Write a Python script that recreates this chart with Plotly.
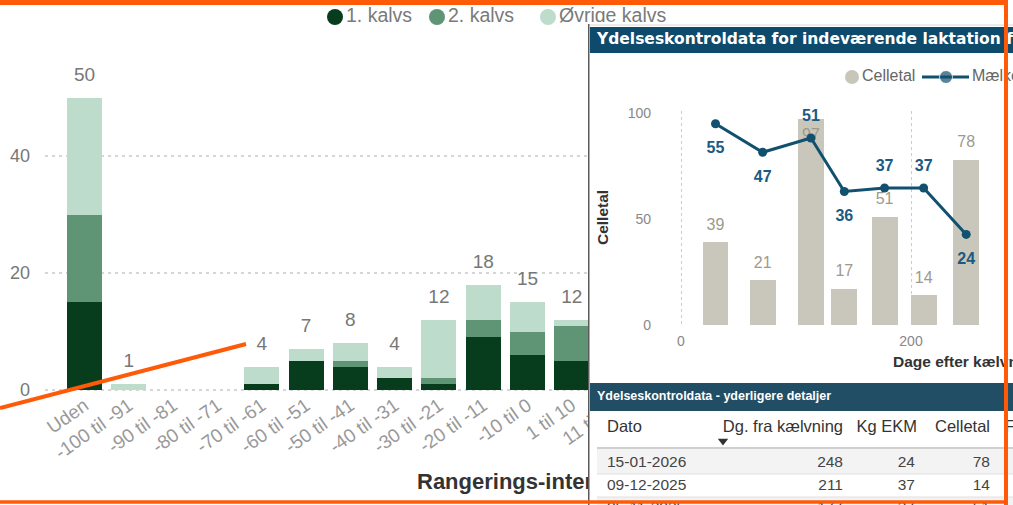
import plotly.graph_objects as go

W, H = 1013, 505
FONT = "Liberation Sans"

# ---------------- background chart: calving-interval distribution ----------------
categories = ["Uden", "-100 til -91", "-90 til -81", "-80 til -71", "-70 til -61",
              "-60 til -51", "-50 til -41", "-40 til -31", "-30 til -21",
              "-20 til -11", "-10 til 0", "1 til 10", "11 til 20"]
first_calf = [15, 0, 0, 0, 1, 5, 4, 2, 1, 9, 6, 5, None]
second_calf = [15, 0, 0, 0, 0, 0, 1, 0, 1, 3, 4, 6, None]
other_calves = [20, 1, 0, 0, 3, 2, 3, 2, 10, 6, 5, 1, None]
series_names = ["1. kalvs", "2. kalvs", "Øvrige kalvs"]
series_colors = ["#073d1c", "#5f9575", "#bddccb"]
y_ticks_bg = [0, 20, 40]
x_title_bg = "Rangerings-interval (dage)"

# ---------------- panel: milk recording, current lactation ----------------
days = [30, 71, 113, 142, 177, 211, 248]
celletal = [39, 21, 97, 17, 51, 14, 78]
kg_ekm = [55, 47, 51, 36, 37, 37, 24]
dates = ["11-06-2025", "22-07-2025", "02-09-2025", "01-10-2025",
         "05-11-2025", "09-12-2025", "15-01-2026"]
line_label_pos = ["bottom center", "bottom center", "top center", "bottom center",
                  "top center", "top center", "bottom center"]
bar_label_pos = ["top center", "top center", "bottom center", "top center",
                 "top center", "top center", "top center"]
panel_title = "Ydelseskontroldata for indeværende laktation for ko 5417"
table_title = "Ydelseskontroldata - yderligere detaljer"
table_headers = ["Dato", "Dg. fra kælvning", "Kg EKM", "Celletal", "Fedt %"]


def px(x):
    return x / W


def py(y):
    return 1 - y / H


fig = go.Figure()

# ---------- subplot 1 : stacked bars ----------
bg_step = 44.3          # px per category
bg_first = 84.5         # px centre of first category
bg_left, bg_right = 45, 990
bg_zero, bg_unit = 390, 5.85
xr0 = -(bg_first - bg_left) / bg_step
xr1 = xr0 + (bg_right - bg_left) / bg_step
idx = list(range(len(categories)))


def bgx(x):
    return xr0 + (x - bg_left) / bg_step


def bgy(y):
    return (bg_zero - y) / bg_unit


for vals, name, col in zip([first_calf, second_calf, other_calves], series_names, series_colors):
    fig.add_trace(go.Bar(x=idx, y=vals, name=name, marker=dict(color=col, line=dict(width=0)),
                         width=0.79, showlegend=False, hoverinfo="skip",
                         xaxis="x", yaxis="y"))

totals = []
for a, b, c in zip(first_calf, second_calf, other_calves):
    totals.append(None if a is None else a + b + c)
lab_x = [i for i, t in zip(idx, totals) if t]
lab_y = [t for t in totals if t]
fig.add_trace(go.Scatter(x=lab_x, y=lab_y, mode="markers+text", text=[str(v) for v in lab_y],
                         textposition="top center", marker=dict(size=18, opacity=0),
                         textfont=dict(family=FONT, size=19, color="#777777"),
                         showlegend=False, hoverinfo="skip",
                         xaxis="x", yaxis="y"))
# axis title (drawn inside subplot 1 so the panel covers it)
fig.add_trace(go.Scatter(x=[bgx(417)], y=[bgy(483)],
                         mode="text", text=[x_title_bg], textposition="middle right",
                         textfont=dict(family=FONT, size=22, color="#333333", weight="bold"),
                         showlegend=False, hoverinfo="skip",
                         xaxis="x", yaxis="y"))
# legend (round symbols)
leg_sym_x = [335, 437, 548]
fig.add_trace(go.Scatter(x=[bgx(v) for v in leg_sym_x], y=[bgy(17)] * 3, mode="markers+text",
                         marker=dict(size=16, color=series_colors),
                         text=series_names, textposition="middle right",
                         textfont=dict(family=FONT, size=19.5, color="#7a7a7a"),
                         showlegend=False, hoverinfo="skip",
                         xaxis="x", yaxis="y"))

# ---------- subplot 2 : panel canvas (pixel coordinates) ----------
P_L, P_T = 588, 22


def ptext(x, y, text, size, color, pos="middle right", family=FONT, weight="normal"):
    fig.add_trace(go.Scatter(x=x if isinstance(x, list) else [x],
                             y=y if isinstance(y, list) else [y],
                             mode="text", text=text if isinstance(text, list) else [text],
                             textposition=pos,
                             textfont=dict(family=family, size=size, color=color, weight=weight),
                             showlegend=False, hoverinfo="skip", xaxis="x2", yaxis="y2"))


ptext(597, 40, panel_title, 15.5, "white", family="DejaVu Sans", weight="bold")
ptext(597, 397, table_title, 12.5, "white", weight="bold")

# combo legend
fig.add_trace(go.Scatter(x=[852], y=[77], mode="markers", marker=dict(size=14, color="#c8c6bb"),
                         showlegend=False, hoverinfo="skip", xaxis="x2", yaxis="y2"))
ptext(862, 77, "Celletal", 16, "#666666")
fig.add_trace(go.Scatter(x=[922, 946, 969], y=[77, 77, 77], mode="lines+markers",
                         line=dict(color="#12506f", width=3),
                         marker=dict(size=[0, 13, 0], color="#12506f"),
                         showlegend=False, hoverinfo="skip", xaxis="x2", yaxis="y2"))
ptext(972, 77, "Mælkeydelse", 16, "#666666")
ptext(893, 363, "Dage efter kælvning", 15.5, "#333333", weight="bold")

# table
order = sorted(range(len(days)), key=lambda i: -days[i])
row_y = [463 + 22.7 * k for k in range(len(order))]
ptext(607, 428, table_headers[0], 16.5, "#333333")
ptext(843, 428, table_headers[1], 16.5, "#333333", pos="middle left")
ptext(917, 428, table_headers[2], 16.5, "#333333", pos="middle left")
ptext(990, 428, table_headers[3], 16.5, "#333333", pos="middle left")
ptext(1005, 428, table_headers[4], 16.5, "#333333")
fig.add_trace(go.Scatter(x=[723], y=[441], mode="markers",
                         marker=dict(symbol="triangle-down", size=9, color="#333333"),
                         showlegend=False, hoverinfo="skip", xaxis="x2", yaxis="y2"))
ptext([607] * len(order), row_y, [dates[i] for i in order], 15.5, "#444444")
ptext([843] * len(order), row_y, [str(days[i]) for i in order], 15.5, "#444444", pos="middle left")
ptext([915] * len(order), row_y, [str(kg_ekm[i]) for i in order], 15.5, "#444444", pos="middle left")
ptext([990] * len(order), row_y, [str(celletal[i]) for i in order], 15.5, "#444444", pos="middle left")

# ---------- subplot 3 : combo chart ----------
c_left, c_zero_x, c_unit_x = 660, 681, 1.15
c_zero_y, c_top, c_unit_y = 325, 111, 2.12
l_zero, l_unit = 320.1, 3.571

fig.add_trace(go.Bar(x=days, y=celletal, width=22.6, marker=dict(color="#c9c7bc", line=dict(width=0)),
                     showlegend=False, hoverinfo="skip", xaxis="x3", yaxis="y3"))
fig.add_trace(go.Scatter(x=days, y=celletal, mode="markers+text", text=[str(v) for v in celletal],
                         textposition=bar_label_pos, marker=dict(size=12, opacity=0),
                         textfont=dict(family=FONT, size=16, color="#9d998c"),
                         cliponaxis=False, showlegend=False, hoverinfo="skip",
                         xaxis="x3", yaxis="y3"))
fig.add_trace(go.Scatter(x=days, y=kg_ekm, mode="lines+markers",
                         line=dict(color="#12506f", width=3),
                         marker=dict(size=9, color="#12506f"),
                         cliponaxis=False, showlegend=False, hoverinfo="skip",
                         xaxis="x3", yaxis="y4"))
fig.add_trace(go.Scatter(x=days, y=kg_ekm, mode="markers+text", text=[str(v) for v in kg_ekm],
                         textposition=line_label_pos,
                         marker=dict(size=[26 if p.startswith("bottom") else 19 for p in line_label_pos],
                                     opacity=0),
                         textfont=dict(family=FONT, size=16, color="#1b5a82", weight="bold"),
                         cliponaxis=False, showlegend=False, hoverinfo="skip",
                         xaxis="x3", yaxis="y4"))

# ---------- shapes ----------
shapes = []


def prect(x0, y0, x1, y1, color):
    shapes.append(dict(type="rect", xref="x2", yref="y2", x0=x0, x1=x1, y0=y0, y1=y1,
                       fillcolor=color, line=dict(width=0), layer="below"))


def pline(x0, y0, x1, y1, color, w):
    shapes.append(dict(type="line", xref="x2", yref="y2", x0=x0, x1=x1, y0=y0, y1=y1,
                       line=dict(color=color, width=w), layer="below"))


prect(P_L, P_T, W, H, "white")
prect(590, 27, W, 53, "#0e4a6c")
prect(590, 383, W, 411, "#214e64")
prect(597, 449, W, 474, "#f3f3f3")
prect(597, 497, W, 525, "#f3f3f3")
pline(597, 448, W, 448, "#cfcfcf", 2)
pline(597, 474, W, 474, "#e0e0e0", 1)
pline(597, 497, W, 497, "#e0e0e0", 1)
pline(588.5, P_T + 2, 588.5, H, "#5a5a5a", 2)
pline(590, 25, W, 25, "#d8d8d8", 1)

ORANGE = "#ff5a08"


def oline(x0, y0, x1, y1, w):
    shapes.append(dict(type="line", xref="paper", yref="paper", x0=px(x0), x1=px(x1),
                       y0=py(y0), y1=py(y1), line=dict(color=ORANGE, width=w), layer="above"))


oline(0, 2.5, 1008, 2.5, 5)
oline(1006, 0, 1006, H, 4)
oline(0, 502, 1008, 502, 3.5)
oline(0, 408, 246, 344, 4)

fig.update_layout(
    width=W, height=H, margin=dict(l=0, r=0, t=0, b=0, autoexpand=False),
    paper_bgcolor="white", plot_bgcolor="white",
    barmode="stack", bargap=0.2,
    font=dict(family=FONT),
    shapes=shapes,
    showlegend=False,
    xaxis=dict(domain=[px(bg_left), px(bg_right)], range=[xr0, xr1], tickvals=idx, ticktext=categories,
               tickangle=-35, tickfont=dict(size=19, color="#999999"), showgrid=False,
               zeroline=False, showline=False, ticks="", anchor="free", position=py(bg_zero)),
    yaxis=dict(domain=[0, 1], range=[bgy(H), bgy(0)],
               tickvals=y_ticks_bg, showgrid=True, gridcolor="#d6d6d6", griddash="3px,4px",
               gridwidth=1.5, zeroline=False, tickfont=dict(size=18, color="#777777"),
               ticklabelstandoff=14, anchor="x"),
    xaxis2=dict(domain=[px(P_L), 1], range=[P_L, W], visible=False, anchor="y2", fixedrange=True),
    yaxis2=dict(domain=[0, py(P_T)], range=[H, P_T], visible=False, anchor="x2", fixedrange=True),
    xaxis3=dict(domain=[px(c_left), 1],
                range=[(c_left - c_zero_x) / c_unit_x, (W - c_zero_x) / c_unit_x],
                tickvals=[0, 200], showgrid=True, gridcolor="#cccccc", griddash="dot",
                zeroline=False, showline=False, ticks="", ticklabelstandoff=6,
                tickfont=dict(size=14, color="#888888"), anchor="y3"),
    yaxis3=dict(domain=[py(c_zero_y), py(c_top)], range=[0, (c_zero_y - c_top) / c_unit_y],
                tickvals=[0, 50, 100], showgrid=False, zeroline=False, showline=False, ticks="",
                ticklabelstandoff=8, tickfont=dict(size=14, color="#888888"), anchor="x3"),
    yaxis4=dict(overlaying="y3", anchor="x3", visible=False,
                range=[(l_zero - c_zero_y) / l_unit, (l_zero - c_top) / l_unit]),
    annotations=[dict(x=px(603), y=py(218), xref="paper", yref="paper", text="<b>Celletal</b>",
                      textangle=-90, showarrow=False, font=dict(family=FONT, size=15.5, color="#333333"))],
)

fig.write_html("out.html", config={"displayModeBar": False},
               post_script="document.body.style.margin='0px';document.body.style.overflow='hidden';")
